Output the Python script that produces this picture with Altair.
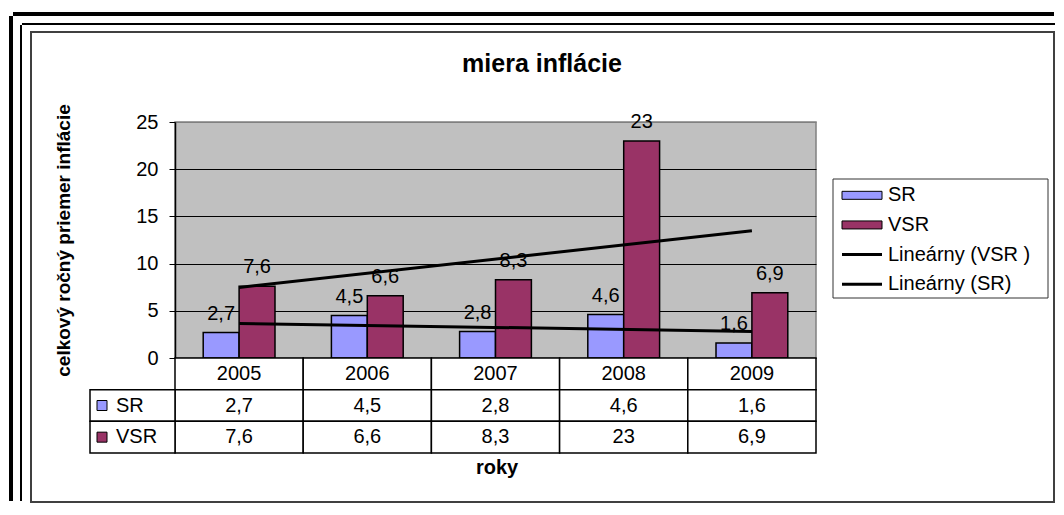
import altair as alt
import pandas as pd

# ---- data ----
years = ['2005', '2006', '2007', '2008', '2009']
sr_values = [2.7, 4.5, 2.8, 4.6, 1.6]
vsr_values = [7.6, 6.6, 8.3, 23, 6.9]
series_names = ['SR', 'VSR']
trend_names = ['Lineárny (SR)', 'Lineárny (VSR )']   # trend of each series
legend_order = ['SR', 'VSR', 'Lineárny (VSR )', 'Lineárny (SR)']
series_colors = ['#9999FF', '#993366']
y_ticks = [0, 5, 10, 15, 20, 25]
title_text = 'miera inflácie'
y_title = 'celkový ročný priemer inflácie'
x_title = 'roky'
table_rows = ['yr', 'SR', 'VSR']

FONT = 'Liberation Sans'
W, H = 641, 236
TABLE_BOTTOM = H + 95

records = []
for s, t, vals in zip(series_names, trend_names, [sr_values, vsr_values]):
    for i, (yr, v) in enumerate(zip(years, vals)):
        records.append({'year': yr, 'idx': i + 1, 'series': s, 'row': s, 'trend': t, 'value': v})
df = pd.DataFrame(records)
header_df = pd.DataFrame({'year': years, 'row': ['yr'] * len(years)})
table_df = pd.concat([header_df, df[['year', 'row', 'value']]], ignore_index=True)
left_df = pd.DataFrame({'row': series_names})
legend_df = pd.DataFrame({'entry': legend_order})
one = pd.DataFrame({'k': [0]})

label_expr = "replace(toString(datum.value), '.', ',')"
color_scale = alt.Scale(domain=legend_order, range=series_colors + ['#000000', '#000000'])

x_band = alt.X('year:N', scale=alt.Scale(domain=years, paddingInner=0.44, paddingOuter=0.22), axis=None)
x_off = alt.XOffset('series:N', scale=alt.Scale(domain=series_names, paddingInner=0, paddingOuter=0))
y_val = alt.Y('value:Q', scale=alt.Scale(domain=[0, 25], nice=False), axis=None)

# ---- frames (decoration) ----
def rule(x1, x2, y1, y2, sw, color='black'):
    return alt.Chart(one).mark_rule(stroke=color, strokeWidth=sw).encode(
        x=alt.value(x1), x2=alt.value(x2), y=alt.value(y1), y2=alt.value(y2))

outer_left = rule(-164, -164, -106, 379, 4)
outer_top = rule(-162, 879, -108, -108, 4)
mid_left = rule(-154, -154, -97, 379, 2)
mid_top = rule(-153, 880, -98, -98, 2)
inner = alt.Chart(one).mark_rect(fillOpacity=0, stroke='#404040', strokeWidth=2).encode(
    x=alt.value(-144), x2=alt.value(879), y=alt.value(-90), y2=alt.value(380))

# ---- bars ----
bars = alt.Chart(df).mark_bar(stroke='black', strokeWidth=1.5).encode(
    x=x_band, xOffset=x_off,
    y=alt.Y('value:Q', scale=alt.Scale(domain=[0, 25], nice=False),
            axis=alt.Axis(values=y_ticks, title=y_title, titleFont=FONT, titleFontSize=19,
                          titleFontWeight='bold', titleColor='black', titlePadding=62,
                          labelFont=FONT, labelFontSize=20, labelColor='black', labelPadding=11,
                          tickSize=6, tickColor='black', tickWidth=1,
                          domainColor='black', domainWidth=1.5,
                          grid=True, gridWidth=1, gridOpacity=1,
                          gridColor={'condition': {'test': 'datum.value === 25', 'value': '#808080'},
                                     'value': 'black'})),
    color=alt.Color('series:N', scale=color_scale, legend=None),
)

bar_labels = alt.Chart(df).transform_calculate(label=label_expr).mark_text(
    font=FONT, fontSize=20, color='black', baseline='alphabetic', dy=-13
).encode(x=x_band, xOffset=x_off, y=y_val, text='label:N')

trend_lines = alt.Chart(df).transform_regression(
    'idx', 'value', groupby=['trend'], method='linear'
).mark_line(strokeWidth=3).encode(
    x=alt.X('idx:Q', scale=alt.Scale(domain=[0.5, 5.5], nice=False, zero=False), axis=None),
    y=y_val,
    color=alt.Color('trend:N', scale=color_scale, legend=None),
)

# ---- legend ----
y_leg = alt.Y('entry:N', scale=alt.Scale(domain=legend_order, range=[58.5, 177],
                                         paddingInner=0, paddingOuter=0), axis=None)
leg_box = alt.Chart(one).mark_rect(fill='white', stroke='#333333', strokeWidth=1).encode(
    x=alt.value(658), x2=alt.value(873), y=alt.value(57), y2=alt.value(176))
leg_bars = alt.Chart(legend_df.iloc[:2]).mark_point(
    shape='M-1,-0.2H1V0.2H-1Z', size=1600, filled=True, opacity=1, stroke='black', strokeWidth=1
).encode(x=alt.value(687), y=y_leg,
         fill=alt.Fill('entry:N', scale=color_scale, legend=None))
leg_lines = alt.Chart(legend_df.iloc[2:]).mark_point(
    shape='M-1,0H1', size=1600, filled=False, opacity=1, stroke='black', strokeWidth=3
).encode(x=alt.value(687), y=y_leg)
leg_text = alt.Chart(legend_df).mark_text(
    font=FONT, fontSize=20, color='black', align='left', baseline='middle'
).encode(x=alt.value(713), y=y_leg, text='entry:N')

# ---- data table ----
x_tab = alt.X('year:N', scale=alt.Scale(domain=years, paddingInner=0, paddingOuter=0), axis=None)
y_tab = alt.Y('row:N', scale=alt.Scale(domain=table_rows, range=[H, TABLE_BOTTOM],
                                       paddingInner=0, paddingOuter=0), axis=None)

cells = alt.Chart(table_df).mark_rect(fill='white', stroke='black', strokeWidth=1.5).encode(
    x=x_tab, y=y_tab)
cell_text = alt.Chart(table_df).transform_calculate(
    label="datum.row === 'yr' ? datum.year : " + label_expr
).mark_text(font=FONT, fontSize=20, color='black', baseline='middle').encode(
    x=x_tab, y=y_tab, text='label:N')

left_cells = alt.Chart(left_df).mark_rect(fill='white', stroke='black', strokeWidth=1.5).encode(
    x=alt.value(-85), x2=alt.value(0), y=y_tab)
squares = alt.Chart(left_df).mark_point(shape='square', filled=True, size=100, stroke='black',
                                        strokeWidth=1, opacity=1).encode(
    x=alt.value(-73), y=y_tab,
    fill=alt.condition("datum.row === 'SR'", alt.value(series_colors[0]), alt.value(series_colors[1])))
left_text = alt.Chart(left_df).mark_text(font=FONT, fontSize=20, color='black', align='left',
                                         baseline='middle').encode(
    x=alt.value(-59), y=y_tab, text='row:N')

# ---- titles ----
title = alt.Chart(pd.DataFrame({'t': [title_text]})).mark_text(
    font=FONT, fontSize=25, fontWeight='bold', color='black', baseline='alphabetic', align='center'
).encode(x=alt.value(367), y=alt.value(-50), text='t:N')
xlab = alt.Chart(pd.DataFrame({'t': [x_title]})).mark_text(
    font=FONT, fontSize=20, fontWeight='bold', color='black', baseline='alphabetic', align='center'
).encode(x=alt.value(322), y=alt.value(352), text='t:N')

chart = alt.layer(
    outer_left, outer_top, mid_left, mid_top, inner,
    bars, bar_labels, trend_lines,
    leg_box, leg_bars, leg_lines, leg_text,
    cells, cell_text, left_cells, squares, left_text, title, xlab
).resolve_scale(
    x='independent', y='independent'
).properties(
    width=W, height=H, background='white',
    padding={'left': 1, 'top': 4, 'right': 0, 'bottom': 0},
).configure_view(
    fill='#C0C0C0', stroke='#808080', strokeWidth=1.5
)

chart.save('out.html', embed_options={'renderer': 'svg', 'actions': False})
